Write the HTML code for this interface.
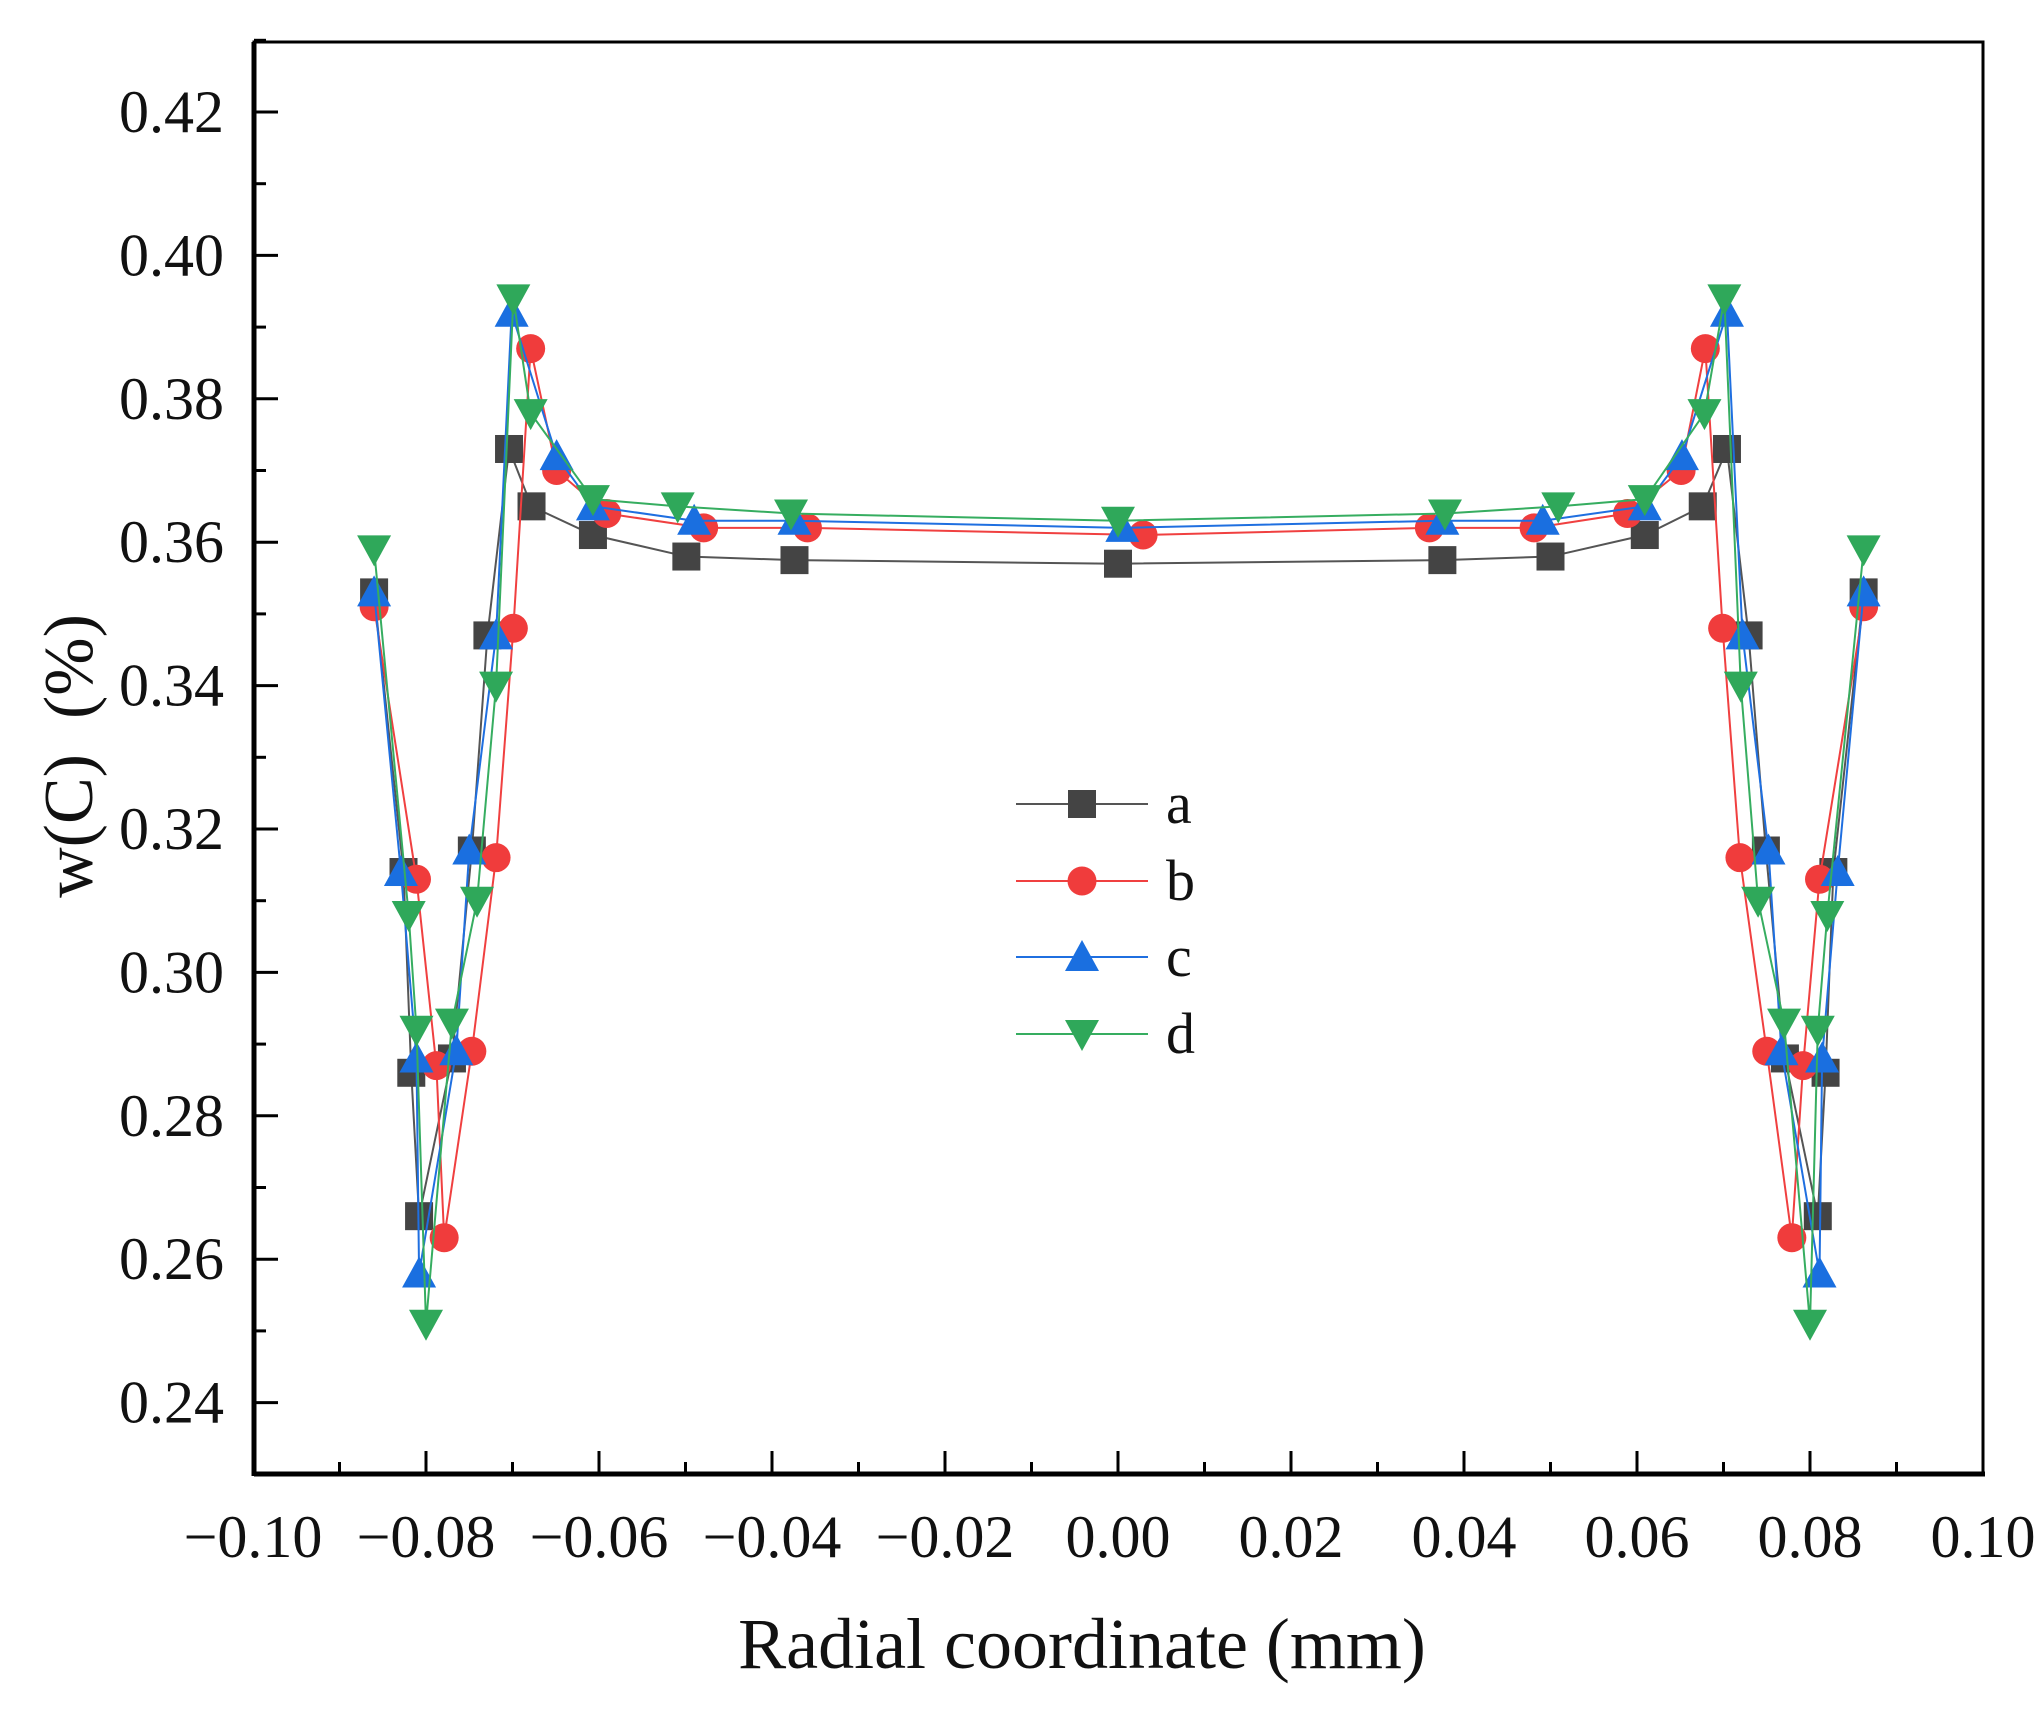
<!DOCTYPE html>
<html><head><meta charset="utf-8"><style>
html,body{margin:0;padding:0;background:#fff}
svg{display:block}
text{font-family:"Liberation Serif",serif;fill:#111}
</style></head><body>
<svg id="chart" width="2043" height="1711" viewBox="0 0 2043 1711" xmlns="http://www.w3.org/2000/svg">
<rect x="0" y="0" width="2043" height="1711" fill="#fff"/>
<g id="plot"></g>
</svg>
<script>
const xTicks=[-0.10,-0.08,-0.06,-0.04,-0.02,0.00,0.02,0.04,0.06,0.08,0.10];
const yTicks=[0.24,0.26,0.28,0.30,0.32,0.34,0.36,0.38,0.40,0.42];
const seriesNames=["a","b","c","d"];
const xa=[-0.0860,-0.0826,-0.0817,-0.0808,-0.0770,-0.0747,-0.0729,-0.0704,-0.0678,-0.0607,-0.0499,-0.0374,0,0.0375,0.0500,0.0609,0.0676,0.0704,0.0729,0.0749,0.0771,0.0809,0.0818,0.0827,0.0862];
const ya=[0.353,0.314,0.286,0.266,0.288,0.317,0.347,0.373,0.365,0.361,0.358,0.3575,0.357,0.3575,0.358,0.361,0.365,0.373,0.347,0.317,0.288,0.266,0.286,0.314,0.353];
const xb=[-0.0860,-0.0811,-0.0788,-0.0779,-0.0747,-0.0719,-0.0699,-0.0679,-0.0649,-0.0591,-0.0479,-0.0359,0.0029,0.0360,0.0481,0.0589,0.0651,0.0679,0.0699,0.0719,0.0750,0.0779,0.0792,0.0811,0.0862];
const yb=[0.351,0.313,0.287,0.263,0.289,0.316,0.348,0.387,0.370,0.364,0.362,0.362,0.361,0.362,0.362,0.364,0.370,0.387,0.348,0.316,0.289,0.263,0.287,0.313,0.351];
const xc=[-0.0860,-0.0829,-0.0811,-0.0808,-0.0765,-0.0750,-0.0719,-0.0701,-0.0649,-0.0607,-0.0490,-0.0374,0.0005,0.0375,0.0491,0.0609,0.0652,0.0704,0.0722,0.0752,0.0767,0.0811,0.0814,0.0832,0.0862];
const yc=[0.353,0.314,0.288,0.258,0.289,0.317,0.347,0.392,0.372,0.365,0.363,0.363,0.362,0.363,0.363,0.365,0.372,0.392,0.347,0.317,0.289,0.258,0.288,0.314,0.353];
const xd=[-0.0860,-0.0820,-0.0811,-0.0800,-0.0770,-0.0741,-0.0719,-0.0699,-0.0679,-0.0607,-0.0509,-0.0378,0,0.0378,0.0509,0.0609,0.0678,0.0701,0.0720,0.0740,0.0770,0.0800,0.0809,0.0820,0.0862];
const yd=[0.359,0.308,0.292,0.251,0.293,0.310,0.340,0.394,0.378,0.366,0.365,0.364,0.363,0.364,0.365,0.366,0.378,0.394,0.340,0.310,0.293,0.251,0.292,0.308,0.359];

const L=254,R=1983,T=42,B=1474;
const X=v=>1118+v*8650;
const Y=v=>112+(0.42-v)*7170;
const NS="http://www.w3.org/2000/svg";
const g=document.getElementById('plot');
function mk(tag,at,parent){const e=document.createElementNS(NS,tag);for(const k in at)e.setAttribute(k,at[k]);(parent||g).appendChild(e);return e;}

for(let i=0;i<xTicks.length;i++){
  const x=X(xTicks[i]);
  const t=mk('line',{x1:x,x2:x,y1:B,y2:B-23,stroke:'#000','stroke-width':3});
  
  
  const lb=mk('text',{x:x,y:1557,'font-size':60,'text-anchor':'middle'});
  lb.textContent=(xTicks[i]<0?'\u2212':'')+Math.abs(xTicks[i]).toFixed(2);
  
  
  if(i<xTicks.length-1){const xm=X(xTicks[i]+0.01);mk('line',{x1:xm,x2:xm,y1:B,y2:B-12,stroke:'#000','stroke-width':3});}
}
for(let i=0;i<yTicks.length;i++){
  const y=Y(yTicks[i]);
  const t=mk('line',{x1:L,x2:L+24,y1:y,y2:y,stroke:'#000','stroke-width':3});
  
  
  const lb=mk('text',{x:224,y:y+20,'font-size':60,'text-anchor':'end'});
  lb.textContent=yTicks[i].toFixed(2);
  
  
  const ym=Y(yTicks[i]+0.01);mk('line',{x1:L,x2:L+12,y1:ym,y2:ym,stroke:'#000','stroke-width':3});
  if(i==0){const y2=Y(yTicks[0]-0.01);mk('line',{x1:L,x2:L+12,y1:y2,y2:y2,stroke:'#000','stroke-width':3});}
}
const frame=mk('rect',{x:L,y:T,width:R-L,height:B-T,fill:'none',stroke:'#000','stroke-width':3});


mk('line',{x1:L,x2:L,y1:T,y2:B+2,stroke:'#000','stroke-width':5});
mk('line',{x1:L,x2:R+2,y1:B,y2:B,stroke:'#000','stroke-width':5});

const xt=mk('text',{x:1082,y:1668,'font-size':72,'text-anchor':'middle'});
xt.textContent='Radial coordinate (mm)';


const yt=mk('text',{x:0,y:0,'font-size':70,'text-anchor':'middle',transform:'translate(92,756) rotate(-90)'});
yt.textContent='w(C)\u00a0 (%)';



const colors=['#444444','#f03c3c','#1a6fe0','#2fa85a'];
const lineColors=['#555555','#f04040','#1f6fe0','#36ad60'];
function marker(k,x,y,parent){
  const c=colors[k];
  if(k==0)return mk('rect',{x:x-14,y:y-14,width:28,height:28,fill:c},parent);
  if(k==1)return mk('circle',{cx:x,cy:y,r:14.5,fill:c},parent);
  if(k==2)return mk('polygon',{points:`${x-17},${y+14} ${x+17},${y+14} ${x},${y-17}`,fill:c},parent);
  return mk('polygon',{points:`${x-17},${y-14} ${x+17},${y-14} ${x},${y+17}`,fill:c},parent);
}
const XS=[xa,xb,xc,xd],YS=[ya,yb,yc,yd];
for(let k=0;k<4;k++){
  const sg=mk('g',{});
  
  
  const pts=XS[k].map((v,i)=>X(v)+','+Y(YS[k][i])).join(' ');
  mk('polyline',{points:pts,fill:'none',stroke:lineColors[k],'stroke-width':2},sg);
  for(let i=0;i<XS[k].length;i++){
    const m=marker(k,X(XS[k][i]),Y(YS[k][i]),sg);
    
    
  }
}
const lg=mk('g',{});


const ly=[804,881,957,1034];
for(let k=0;k<4;k++){
  const e=mk('g',{},lg);
  
  
  mk('line',{x1:1016,x2:1148,y1:ly[k],y2:ly[k],stroke:lineColors[k],'stroke-width':2},e);
  marker(k,1082,ly[k],e);
  const t=mk('text',{x:1166,y:ly[k]+19,'font-size':58},e);
  t.textContent=seriesNames[k];
}
</script>
</body></html>
